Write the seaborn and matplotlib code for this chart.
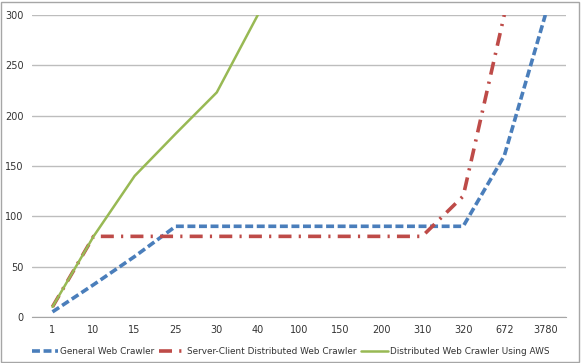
import pandas as pd
import matplotlib.pyplot as plt
import seaborn as sns
from matplotlib.lines import Line2D
from matplotlib.patches import Rectangle

categories = ['1', '10', '15', '25', '30', '40', '100', '150', '200', '310', '320', '672', '3780']
general = [5, 32, 60, 90, 90, 90, 90, 90, 90, 90, 90, 160, 300]
server_client = [10, 80, 80, 80, 80, 80, 80, 80, 80, 80, 120, 300, None]
aws = [10, 80, 140, 182, 223, 300, None, None, None, None, None, None, None]

names = ['General Web Crawler', 'Server-Client Distributed Web Crawler', 'Distributed Web Crawler Using AWS']
colors = ['#4a7ebb', '#be4b48', '#98b954']
styles = [(0, (2.2, 1.0)), (0, (3.6, 2.0, 0.6, 2.0)), '-']
widths = [2.6, 2.6, 1.8]


def draw():
    sns.set_style('white')
    plt.rcParams['font.family'] = ['DejaVu Sans']
    fig = plt.figure(figsize=(5.81, 3.63), dpi=100)
    ax = fig.add_axes([0.055, 0.127, 0.919, 0.832])

    series = [general, server_client, aws]
    for vals, c, ls, lw in zip(series, colors, styles, widths):
        df = pd.DataFrame({'x': categories, 'y': vals}).dropna()
        sns.lineplot(data=df, x='x', y='y', ax=ax, color=c, linewidth=lw, sort=False)
        ax.lines[-1].set_linestyle(ls)

    ax.set_xlim(-0.5, len(categories) - 0.5)
    ax.set_ylim(0, 300)
    ax.set_yticks(range(0, 301, 50))
    ax.set_xlabel('')
    ax.set_ylabel('')
    ax.grid(axis='y', color='#bdbdbd', linewidth=1)
    ax.set_axisbelow(True)
    for s in ['top', 'right', 'left']:
        ax.spines[s].set_visible(False)
    ax.spines['bottom'].set_color('#a6a6a6')
    ax.set_xticks(range(len(categories)))
    ax.set_xticklabels(categories)
    ax.set_xticks([i + 0.5 for i in range(-1, len(categories))], minor=True)
    ax.tick_params(axis='x', which='major', length=0, labelsize=7, pad=6)
    ax.tick_params(axis='x', which='minor', length=4, color='#a6a6a6', direction='out')
    ax.tick_params(axis='y', length=4, color='#a6a6a6', labelsize=7, pad=2)
    for lab in ax.get_yticklabels() + ax.get_xticklabels():
        lab.set_color('#333333')

    handles = [Line2D([0], [0], color=c, linestyle=ls, linewidth=lw) for c, ls, lw in zip(colors, styles, widths)]
    leg = fig.legend(handles, names, loc='center', bbox_to_anchor=(0.5, 0.032), ncol=3, frameon=False,
                     fontsize=6.4, handlelength=3.0, handletextpad=0.2, columnspacing=0.5)
    for t in leg.get_texts():
        t.set_color('#333333')

    fig.patches.append(Rectangle((0.002, 0.003), 0.994, 0.992, transform=fig.transFigure,
                                 fill=False, edgecolor='#a6a6a6', linewidth=1))
    plt.savefig('out.png', dpi=100)


if __name__ == '__main__':
    draw()
